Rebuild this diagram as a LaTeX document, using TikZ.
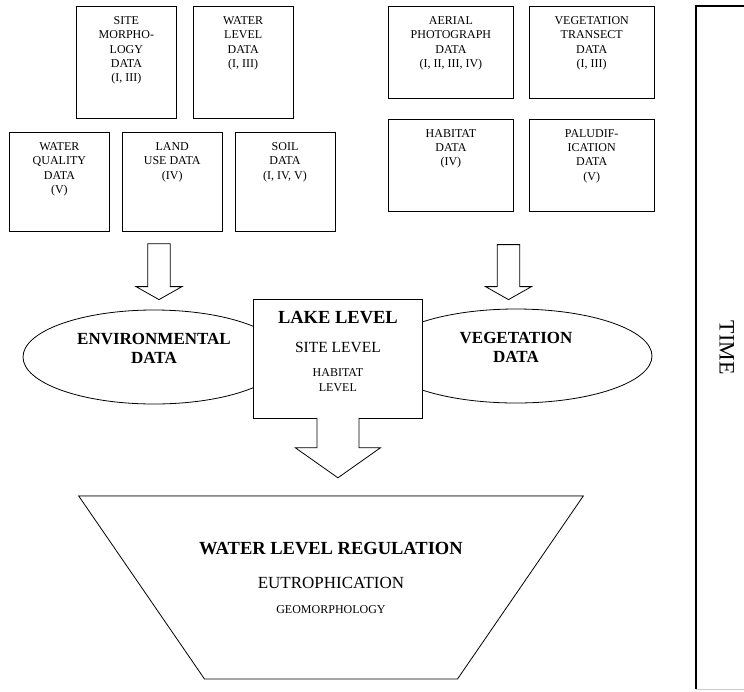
\documentclass[tikz,border=0pt]{standalone}
\usepackage{fontspec}
\setmainfont{Liberation Serif}
\usepackage{graphicx}
\usetikzlibrary{calc,positioning,shapes.geometric}

\newcommand{\toptext}[4]{\parbox[c][#2][t]{#1}{\centering\vspace*{#3}#4}}

\begin{document}
\begin{tikzpicture}[x=1pt,y=-1pt,
  databox/.style={draw,line width=.8pt,anchor=north west,inner sep=0pt,font=\fontsize{12}{14.4}\selectfont},
  dataellipse/.style={ellipse,draw,line width=.8pt,minimum height=94pt,inner sep=0pt,font=\fontsize{17}{19}\selectfont\bfseries},
  arrowpath/.style n args={3}{to path={($(\tikztostart)+(-#1,0)$) -- ($(\tikztotarget)+(-#1,-#3)$) -- ($(\tikztotarget)+(-#2,-#3)$) -- (\tikztotarget) -- ($(\tikztotarget)+(#2,-#3)$) -- ($(\tikztotarget)+(#1,-#3)$) -- ($(\tikztostart)+(#1,0)$)}},
  blockarrow/.style n args={3}{arrowpath={#1}{#2}{#3},line width=.8pt,fill=white}]
\useasboundingbox (0,0) rectangle (744,691);
\node[databox] (sitemorph) at (76,6) {\toptext{100pt}{112pt}{10pt}{SITE\\MORPHO-\\LOGY\\DATA\\(I, III)}};
\node[databox,right=16pt of sitemorph] (waterlevel) {\toptext{100pt}{112pt}{10pt}{WATER\\LEVEL\\DATA\\(I, III)}};
\node[databox] (waterqual) at (9,132) {\toptext{100pt}{99pt}{10pt}{WATER\\QUALITY\\DATA\\(V)}};
\node[databox,right=12pt of waterqual] (landuse) {\toptext{100pt}{99pt}{10pt}{LAND\\USE DATA\\(IV)}};
\node[databox,right=12pt of landuse] (soil) {\toptext{100pt}{99pt}{10pt}{SOIL\\DATA\\(I, IV, V)}};
\node[databox] (aerial) at (388,6) {\toptext{125pt}{92pt}{10pt}{AERIAL\\PHOTOGRAPH\\DATA\\(I, II, III, IV)}};
\node[databox,right=15pt of aerial] (vegtrans) {\toptext{125pt}{92pt}{10pt}{VEGETATION\\TRANSECT\\DATA\\(I, III)}};
\node[databox,below=20pt of aerial] (habitat) {\toptext{125pt}{92pt}{10pt}{HABITAT\\DATA\\(IV)}};
\node[databox,below=20pt of vegtrans] (paludif) {\toptext{125pt}{92pt}{10pt}{PALUDIF-\\ICATION\\DATA\\(V)}};
\node[dataellipse,minimum width=262pt] (env) at (154,357) {\parbox{160pt}{\centering ENVIRONMENTAL\\DATA\par\vspace{17pt}}};
\node[dataellipse,minimum width=272pt] (veg) at (516,356) {\parbox{160pt}{\centering VEGETATION\\DATA\par\vspace{17pt}}};
\node[draw,fill=white,line width=.8pt,anchor=north west,inner sep=0pt] (lake) at (253,299) {\parbox[c][119pt][t]{169pt}{\centering\vspace*{12pt}{\fontsize{18.5}{22}\selectfont\bfseries LAKE LEVEL\par}{\fontsize{15.5}{29}\selectfont SITE LEVEL\par}{\fontsize{12}{24}\selectfont HABITAT\par}{\fontsize{12}{14.4}\selectfont LEVEL\par}}};
\node[trapezium,draw,line width=.8pt,shape border rotate=180,trapezium angle=55.5,inner sep=0pt] (wlr) at (331,587.5) {\parbox[c][183pt][c]{253pt}{\centering{\fontsize{18.5}{22}\selectfont\bfseries\makebox[0pt]{WATER LEVEL REGULATION}\par}{\fontsize{17}{34}\selectfont\makebox[0pt]{EUTROPHICATION}\par}{\fontsize{12}{25}\selectfont\makebox[0pt]{GEOMORPHOLOGY}\par}\vspace{20pt}}};
\draw[black!45,line width=1.2pt] (wlr.bottom left corner) -- (wlr.bottom right corner);
\node[minimum width=54pt,minimum height=683pt,inner sep=0pt,anchor=north west,font=\fontsize{22}{26}\selectfont] (time) at (696,6) {\hspace*{7pt}\rotatebox{-90}{TIME}};
\draw[line width=1.2pt] (time.south west) -- (time.north west) -- (time.north east);
\draw[black!20] (time.south west) -- (time.south east);
\coordinate (envtip) at ($(env.north)+(5,-10)$);
\coordinate (envtail) at ($(envtip |- landuse.south)+(0,12)$);
\coordinate (vegtip) at ($(veg.north)+(-7.5,-9)$);
\coordinate (vegtail) at ($(vegtip |- habitat.south)+(0,33)$);
\draw[blockarrow={11.25}{23}{13}] (envtail) to (envtip) -- cycle;
\draw[blockarrow={11.25}{23}{13}] (vegtail) to (vegtip) -- cycle;
\draw[blockarrow={21}{42.5}{30}] ([yshift=1pt]lake.south) to ($(lake.south)+(0,59)$);
\end{tikzpicture}
\end{document}
